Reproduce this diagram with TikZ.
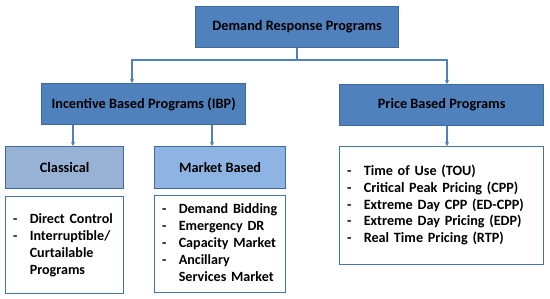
\documentclass[tikz,border=0pt]{standalone}
\usepackage{fontspec}
\setmainfont{Carlito}
\usetikzlibrary{arrows.meta}
\definecolor{dkfill}{HTML}{4F81BD}
\definecolor{bord}{HTML}{3F6A9C}
\definecolor{clfill}{HTML}{98B2D6}
\definecolor{mkfill}{HTML}{8EB4E3}
\definecolor{listbord}{HTML}{4472AA}
\tikzset{
  hdr/.style={draw=bord, line width=1.3pt, fill=dkfill, anchor=north west, inner sep=0pt, font=\fontsize{14.3}{17}\selectfont\bfseries, text=black},
  sub/.style={draw=bord, line width=1.3pt, anchor=north west, inner sep=0pt, font=\fontsize{14.3}{17}\selectfont\bfseries, text=black},
  listbox/.style={draw=listbord, line width=1.3pt, fill=white, anchor=north west, inner xsep=7.5pt, inner ysep=0pt, align=left, font=\fontsize{14.1}{17}\selectfont\bfseries},
  conn/.style={draw=dkfill, line width=1.1pt, -{Stealth[length=4pt,width=4pt]}},
  connp/.style={draw=dkfill, line width=1.1pt}
}
\newcommand{\lst}[1]{\begin{tabular}{@{}l@{\hspace{12.3pt}}l@{}}#1\end{tabular}}
\begin{document}
\begin{tikzpicture}[x=1pt,y=-1pt]
\useasboundingbox (0,0) rectangle (550,299);
\node[hdr, minimum width=203pt, minimum height=41pt] (drp) at (195,6) {Demand Response Programs};
\node[hdr, minimum width=204pt, minimum height=41pt] (ibp) at (41,83) {Incentive Based Programs (IBP)};
\node[hdr, minimum width=204pt, minimum height=41pt] (pbp) at (339,84) {Price Based Programs};
\node[sub, fill=clfill, minimum width=118pt, minimum height=42pt] (cls) at (5,146) {Classical};
\node[sub, fill=mkfill, minimum width=131pt, minimum height=42pt] (mkt) at (154,146) {Market Based};
\node[listbox, minimum width=118pt, minimum height=97pt, text width=103pt] (clist) at (5,196) {\lst{- & Direct Control\\ - & Interruptible/\\ & Curtailable\\ & Programs}};
\node[listbox, minimum width=131pt, minimum height=97pt, text width=116pt] (mlist) at (154,195) {\lst{- & Demand Bidding\\ - & Emergency DR\\ - & Capacity Market\\ - & Ancillary\\ & Services Market}};
\node[listbox, font=\fontsize{14.2}{16.8}\selectfont\bfseries, minimum width=204pt, minimum height=118pt, text width=189pt] (plist) at (339,146) {\lst{- & Time of Use (TOU)\\ - & Critical Peak Pricing (CPP)\\ - & Extreme Day CPP (ED-CPP)\\ - & Extreme Day Pricing (EDP)\\ - & Real Time Pricing (RTP)}};
\coordinate (j) at (297,60);
\draw[connp] (drp.south -| j) -- (j);
\draw[conn] (j) -| (ibp.north -| 132,0);
\draw[conn] (j) -| (pbp.north -| 447,0);
\draw[conn] (ibp.south -| 73,0) -- (cls.north -| 73,0);
\draw[conn] (ibp.south -| 212,0) -- (mkt.north -| 212,0);
\draw[conn] (pbp.south -| 447,0) -- (plist.north -| 447,0);
\end{tikzpicture}
\end{document}
